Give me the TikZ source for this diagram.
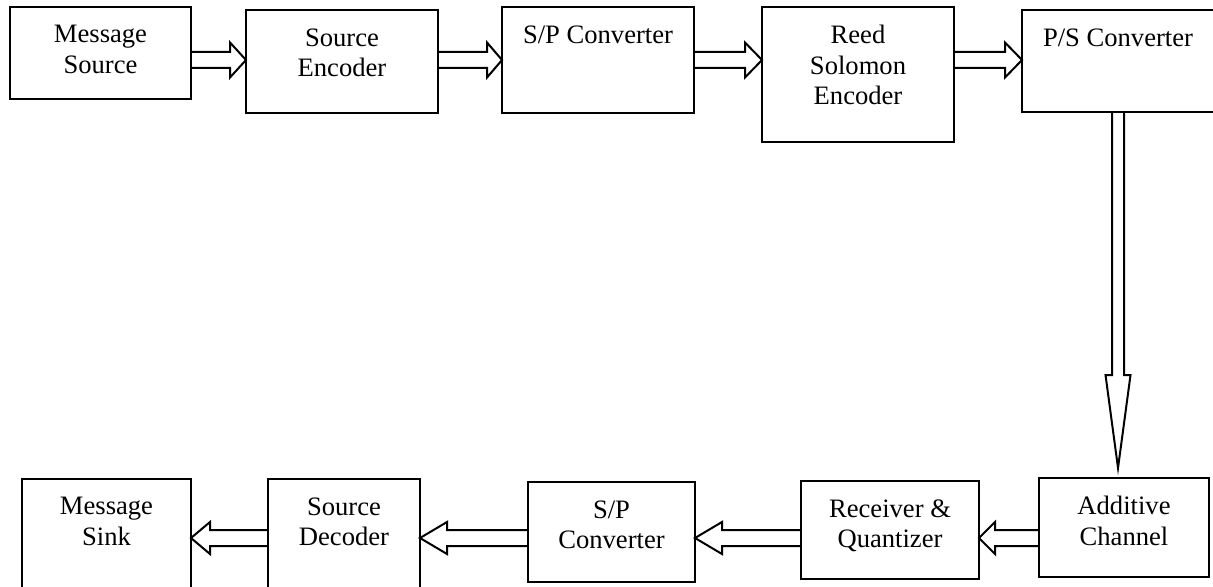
\documentclass[tikz,border=0pt]{standalone}
\usepackage{fontspec}
\setmainfont{Liberation Serif}
\usepackage{tikz}
\usetikzlibrary{positioning,calc}

\newcommand{\fatarrow}[4]{%
\draw[fat] ($(#1)+(0,8)$) -- ($(#2)+(#3,8)$) -- ($(#2)+(#3,#4)$) -- (#2)
  -- ($(#2)+(#3,-#4)$) -- ($(#2)+(#3,-8)$) -- ($(#1)+(0,-8)$);}

\begin{document}
\begin{tikzpicture}
[x=0.5pt, y=-0.5pt,
block/.style={draw, line width=1pt, rectangle, inner sep=0pt, outer sep=0pt},
label text/.style={anchor=north, inner sep=0pt, align=center, font=\fontsize{13.3}{15.25}\selectfont},
fat/.style={draw, line width=1pt, line join=miter}]
\clip (0,0) rectangle (1213,587);
\node[block, minimum width=90.5pt, minimum height=46pt] (msrc) at (100.5,53) {};
\node[block, minimum width=96pt, minimum height=51.5pt] (senc) at (342,61.5) {};
\node[block, minimum width=96pt, minimum height=53pt] (sptx) at (598,60) {};
\node[block, minimum width=96pt, minimum height=67.5pt] (rsenc) at (858,74.5) {};
\node[block, minimum width=96pt, minimum height=51pt] (pstx) at (1118,61) {};
\node[block, minimum width=84.5pt, minimum height=60.5pt] (msink) at (106.5,539.5) {};
\node[block, minimum width=76pt, minimum height=60.5pt] (sdec) at (344,539.5) {};
\node[block, minimum width=83.5pt, minimum height=50pt] (sprx) at (611.5,532) {};
\node[block, minimum width=89pt, minimum height=49pt] (rxq) at (890,530) {};
\node[block, minimum width=85pt, minimum height=49.5pt] (chan) at (1124,527.5) {};
\node[label text, below=9pt of msrc.north] {Message\\Source};
\node[label text, below=9pt of senc.north] {Source\\Encoder};
\node[label text, below=9pt of sptx.north] {S/P Converter};
\node[label text, below=9pt of rsenc.north] {Reed\\Solomon\\Encoder};
\node[label text, below=9pt of pstx.north] {P/S Converter};
\node[label text, below=9pt of msink.north] {Message\\Sink};
\node[label text, below=9pt of sdec.north] {Source\\Decoder};
\node[label text, below=9pt of sprx.north] {S/P\\Converter};
\node[label text, below=9pt of rxq.north] {Receiver \&\\Quantizer};
\node[label text, below=9pt of chan.north] {Additive\\Channel};
\fatarrow{msrc.east |- 0,60}{senc.west |- 0,60}{-16}{17.5}
\fatarrow{senc.east |- 0,60}{sptx.west |- 0,60}{-15}{17.5}
\fatarrow{sptx.east |- 0,60}{rsenc.west |- 0,60}{-17}{17.5}
\fatarrow{rsenc.east |- 0,60}{pstx.west |- 0,60}{-17}{17.5}
\coordinate (down) at (pstx.south |- 0,468);
\draw[fat] ($(pstx.south)+(-6,0)$) -- ($(down)+(-6,-93)$) -- ($(down)+(-12.5,-93)$) -- (down)
  -- ($(down)+(12.5,-93)$) -- ($(down)+(6,-93)$) -- ($(pstx.south)+(6,0)$);
\fatarrow{chan.west |- 0,538}{rxq.east |- 0,538}{16}{16}
\fatarrow{rxq.west |- 0,538}{sprx.east |- 0,538}{27}{16}
\fatarrow{sprx.west |- 0,538}{sdec.east |- 0,538}{27}{16}
\fatarrow{sdec.west |- 0,538}{msink.east |- 0,538}{19}{16}
\end{tikzpicture}
\end{document}
